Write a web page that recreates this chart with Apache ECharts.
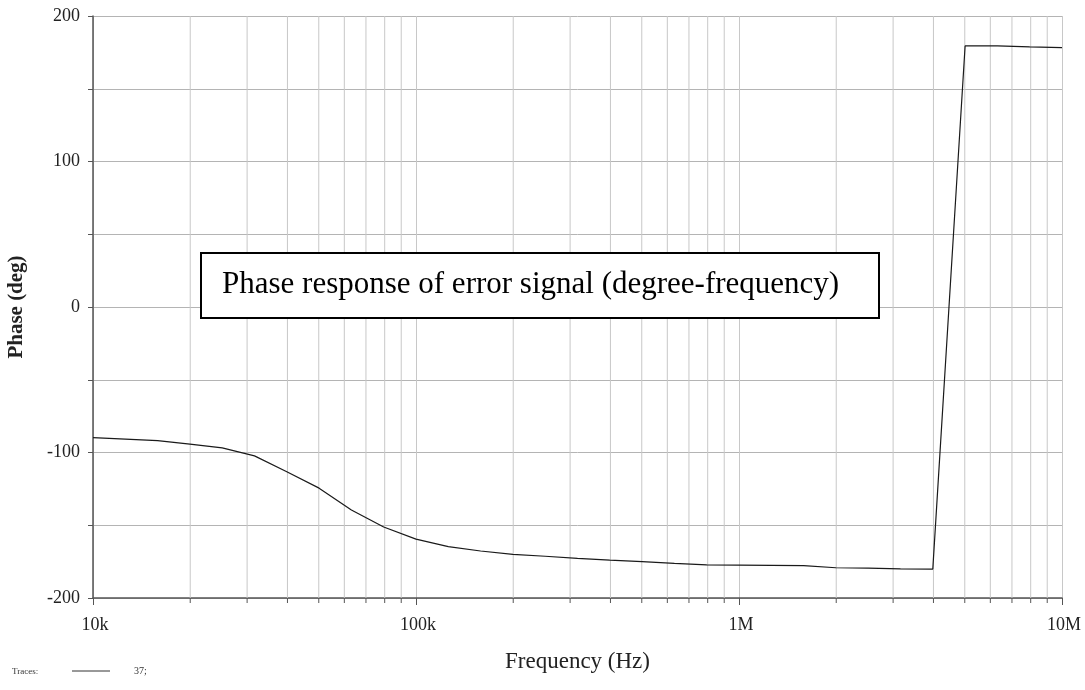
<!DOCTYPE html>
<html>
<head>
<meta charset="utf-8">
<script src="https://cdn.jsdelivr.net/npm/echarts@6/dist/echarts.min.js"></script>
<style>html,body{margin:0;padding:0;background:#fff}#c{width:1085px;height:690px}</style>
</head>
<body>
<div id="c"></div>
<script>
// Frequencies (Hz), 10 points per decade
const freqs = [
  10000, 12589, 15849, 19953, 25119, 31623, 39811, 50119, 63096, 79433,
  100000, 125893, 158489, 199526, 251189, 316228, 398107, 501187, 630957, 794328,
  1000000, 1258925, 1584893, 1995262, 2511886, 3162278, 3981072, 5011872, 6309573, 7943282,
  10000000
];
// Phase (deg)
const phase = [
  -89.8, -90.8, -91.9, -94.2, -96.8, -102.3, -113.2, -124.5, -139.5, -151.2,
  -159.5, -164.7, -167.7, -170.0, -171.3, -172.8, -174.0, -175.0, -176.2, -177.3,
  -177.4, -177.6, -177.8, -179.2, -179.5, -180.0, -180.1, 179.4, 179.5, 178.8,
  178.2
];
// Minor (2..9 per decade) vertical grid positions
const gridFreqs = [
  20000, 30000, 40000, 50000, 60000, 70000, 80000, 90000,
  200000, 300000, 400000, 500000, 600000, 700000, 800000, 900000,
  2000000, 3000000, 4000000, 5000000, 6000000, 7000000, 8000000, 9000000
];
const xTickLabels = {10000: '10k', 100000: '100k', 1000000: '1M', 10000000: '10M'};

const serif = 'Liberation Serif';
const chart = echarts.init(document.getElementById('c'), null, {renderer: 'canvas'});
chart.setOption({
  backgroundColor: '#fff',
  animation: false,
  grid: {left: 93, right: 23, top: 16, bottom: 92, containLabel: false, outerBoundsMode: 'none'},
  xAxis: {
    type: 'log', logBase: 10, min: 10000, max: 10000000,
    name: 'Frequency (Hz)', nameLocation: 'middle', nameGap: 52,
    nameTextStyle: {fontFamily: serif, fontSize: 23, color: '#222'},
    axisLine: {show: true, onZero: false, lineStyle: {color: '#555', width: 1.5}},
    axisTick: {show: true, length: 7, lineStyle: {color: '#555'}},
    axisLabel: {
      fontFamily: serif, fontSize: 18, color: '#222', margin: 18,
      padding: [0, 0, 0, 4],
      formatter: v => xTickLabels[Math.round(v)] || ''
    },
    splitLine: {show: true, lineStyle: {color: '#c8c8c8', width: 1}}
  },
  yAxis: {
    type: 'value', min: -200, max: 200, interval: 100,
    name: 'Phase (deg)', nameLocation: 'middle', nameGap: 66, nameRotate: 90,
    nameTextStyle: {fontFamily: serif, fontSize: 21, fontWeight: 'bold', color: '#222'},
    axisLine: {show: true, onZero: false, lineStyle: {color: '#555', width: 1.5}},
    axisTick: {show: true, length: 5, lineStyle: {color: '#555'}},
    minorTick: {show: true, splitNumber: 2, length: 5, lineStyle: {color: '#555'}},
    axisLabel: {fontFamily: serif, fontSize: 18, color: '#222', margin: 13},
    splitLine: {show: true, lineStyle: {color: '#b4b4b4', width: 1}},
    minorSplitLine: {show: true, lineStyle: {color: '#b4b4b4', width: 1}}
  },
  series: [
    {
      type: 'custom',
      silent: true,
      clip: false,
      z: 1,
      data: gridFreqs.map(f => [f]),
      renderItem: function (params, api) {
        const top = api.coord([api.value(0), 200]);
        const bot = api.coord([api.value(0), -200]);
        return {
          type: 'group',
          children: [
            {type: 'line', shape: {x1: top[0], y1: top[1], x2: bot[0], y2: bot[1]},
             style: {stroke: '#c8c8c8', lineWidth: 1}},
            {type: 'line', shape: {x1: bot[0], y1: bot[1], x2: bot[0], y2: bot[1] + 5},
             style: {stroke: '#555', lineWidth: 1}}
          ]
        };
      }
    },
    {
      type: 'line',
      data: freqs.map((f, i) => [f, phase[i]]),
      showSymbol: false,
      symbol: 'none',
      z: 3,
      lineStyle: {color: '#1a1a1a', width: 1.2}
    }
  ],
  graphic: [
    {
      type: 'rect', left: 200, top: 252, z: 10,
      shape: {width: 678, height: 65},
      style: {fill: '#fff', stroke: '#000', lineWidth: 2}
    },
    {
      type: 'text', x: 222, y: 285, z: 11,
      style: {text: 'Phase response of error signal (degree-frequency)', font: '31px "Liberation Serif"', fill: '#000', verticalAlign: 'middle', align: 'left'}
    },
    {
      type: 'text', left: 12, top: 667, z: 11,
      style: {text: 'Traces:', font: '9px "Liberation Serif"', fill: '#333'}
    },
    {
      type: 'line', z: 11,
      shape: {x1: 72, y1: 671, x2: 110, y2: 671},
      style: {stroke: '#333', lineWidth: 1}
    },
    {
      type: 'text', left: 134, top: 666, z: 11,
      style: {text: '37;', font: '10px "Liberation Serif"', fill: '#333'}
    }
  ]
});
</script>
</body>
</html>
